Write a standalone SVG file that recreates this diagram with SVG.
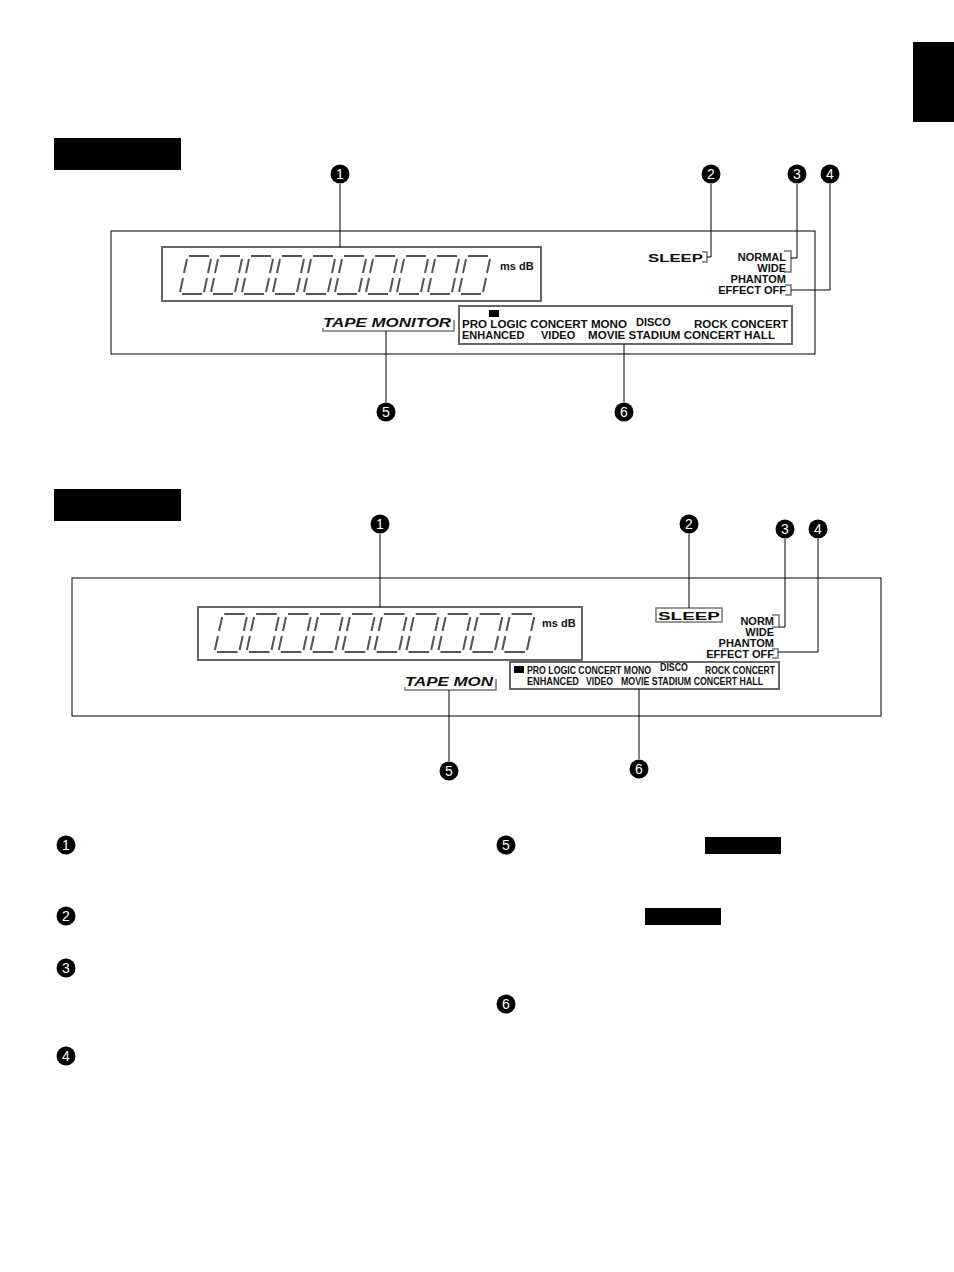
<svg xmlns="http://www.w3.org/2000/svg" xmlns:xlink="http://www.w3.org/1999/xlink" width="954" height="1272" viewBox="0 0 954 1272">
<style>
.p{fill:none;stroke:#000;stroke-width:1}
.bx{fill:none;stroke:#666;stroke-width:2}
.seg{fill:none;stroke:#555;stroke-width:2;stroke-linecap:butt}
.t{font-family:"Liberation Sans",Arial,sans-serif;font-weight:bold;font-size:11px;fill:#111}
.ti{font-family:"Liberation Sans",Arial,sans-serif;font-weight:bold;font-style:italic;font-size:13px;fill:#111}
.n{font-family:"Liberation Sans",Arial,sans-serif;font-size:14px;fill:#fff;text-anchor:middle}
.c{fill:none;stroke:#000;stroke-width:1}
.br{fill:none;stroke:#777;stroke-width:1.5}
</style>
<defs>
<g id="dg">
<path class="seg" d="M6,0 H26 M4,3 L1,17 M28,3 L25,17 M0,22 L-3,36 M24,22 L21,36 M-1,38 H19"/>
</g>
<g id="num"><circle r="9.5" fill="#000"/></g>
</defs>
<rect x="913" y="42" width="41" height="80" fill="#000"/>
<rect x="54" y="138" width="127" height="32" fill="#000"/>
<rect x="54" y="489" width="127" height="32" fill="#000"/>
<rect x="705" y="837" width="76" height="17" fill="#000"/>
<rect x="645" y="908" width="76" height="17" fill="#000"/>

<g id="panel1">
<rect x="111" y="231" width="704" height="123" class="p"/>
<rect x="162" y="247" width="379" height="54" class="bx"/>
<g id="digits1">
<use xlink:href="#dg" x="183" y="256"/><use xlink:href="#dg" x="214" y="256"/><use xlink:href="#dg" x="245" y="256"/><use xlink:href="#dg" x="276" y="256"/><use xlink:href="#dg" x="307" y="256"/><use xlink:href="#dg" x="338" y="256"/><use xlink:href="#dg" x="369" y="256"/><use xlink:href="#dg" x="400" y="256"/><use xlink:href="#dg" x="431" y="256"/><use xlink:href="#dg" x="462" y="256"/>
</g>
<text class="t" x="500" y="270">ms dB</text>
<text class="t" x="648" y="262" font-size="12" textLength="55" lengthAdjust="spacingAndGlyphs">SLEEP</text>
<path class="br" d="M702,252 H707 V262 H702"/>
<text class="t" x="786" y="261" text-anchor="end">NORMAL</text>
<text class="t" x="786" y="272" text-anchor="end">WIDE</text>
<text class="t" x="786" y="283" text-anchor="end">PHANTOM</text>
<text class="t" x="786" y="294" text-anchor="end">EFFECT OFF</text>
<path class="br" d="M784,251 H791 V272 H784"/>
<path class="br" d="M785,285 H791 V295 H785"/>
<text class="ti" x="323" y="327" textLength="128" lengthAdjust="spacingAndGlyphs">TAPE MONITOR</text>
<path class="br" d="M323,328 V331 H454 V320"/>
<rect x="459" y="306" width="333" height="38" class="bx"/>
<rect x="489" y="310" width="10" height="7" fill="#000"/>
<text class="t" x="462" y="328" textLength="165" lengthAdjust="spacingAndGlyphs">PRO LOGIC  CONCERT MONO</text>
<text class="t" x="636" y="326">DISCO</text>
<text class="t" x="694" y="328" textLength="94" lengthAdjust="spacingAndGlyphs">ROCK CONCERT</text>
<text class="t" x="462" y="339">ENHANCED</text>
<text class="t" x="541" y="339">VIDEO</text>
<text class="t" x="588" y="339" textLength="187" lengthAdjust="spacingAndGlyphs">MOVIE STADIUM CONCERT HALL</text>
</g>

<g id="panel2">
<rect x="72" y="578" width="809" height="138" class="p"/>
<rect x="198" y="607" width="384" height="53" class="bx"/>
<g id="digits2" transform="translate(218,614) scale(1.03,1.0)">
<use xlink:href="#dg" x="0" y="0"/><use xlink:href="#dg" x="31" y="0"/><use xlink:href="#dg" x="62" y="0"/><use xlink:href="#dg" x="93" y="0"/><use xlink:href="#dg" x="124" y="0"/><use xlink:href="#dg" x="155" y="0"/><use xlink:href="#dg" x="186" y="0"/><use xlink:href="#dg" x="217" y="0"/><use xlink:href="#dg" x="248" y="0"/><use xlink:href="#dg" x="279" y="0"/>
</g>
<text class="t" x="542" y="627">ms dB</text>
<rect x="656" y="608" width="66" height="14" class="br"/>
<text class="t" x="658" y="620" font-size="12" textLength="62" lengthAdjust="spacingAndGlyphs">SLEEP</text>
<text class="t" x="774" y="625" text-anchor="end">NORM</text>
<text class="t" x="774" y="636" text-anchor="end">WIDE</text>
<text class="t" x="774" y="647" text-anchor="end">PHANTOM</text>
<text class="t" x="774" y="658" text-anchor="end">EFFECT OFF</text>
<path class="br" d="M772,615 H779 V627 H772"/>
<path class="br" d="M772,649 H778 V658 H772"/>
<text class="ti" x="405" y="686" textLength="88" lengthAdjust="spacingAndGlyphs">TAPE MON</text>
<path class="br" d="M405,687 V690 H496 V679"/>
<rect x="510" y="662" width="269" height="27" class="bx"/>
<rect x="514" y="666" width="10" height="7" fill="#000"/>
<text class="t" x="527" y="674" font-size="10" textLength="124" lengthAdjust="spacingAndGlyphs">PRO LOGIC CONCERT MONO</text>
<text class="t" x="660" y="671" font-size="9" textLength="28" lengthAdjust="spacingAndGlyphs">DISCO</text>
<text class="t" x="705" y="674" font-size="10" textLength="70" lengthAdjust="spacingAndGlyphs">ROCK CONCERT</text>
<text class="t" x="527" y="685" font-size="10" textLength="52" lengthAdjust="spacingAndGlyphs">ENHANCED</text>
<text class="t" x="586" y="685" font-size="10" textLength="27" lengthAdjust="spacingAndGlyphs">VIDEO</text>
<text class="t" x="621" y="685" font-size="10" textLength="142" lengthAdjust="spacingAndGlyphs">MOVIE STADIUM CONCERT HALL</text>
</g>

<g id="connectors">
<path class="c" d="M340,184 V247"/>
<path class="c" d="M711,184 V257 H707"/>
<path class="c" d="M797,184 V258 H791"/>
<path class="c" d="M830,184 V290 H791"/>
<path class="c" d="M386,402 V331"/>
<path class="c" d="M624,402 V344"/>
<path class="c" d="M380,534 V607"/>
<path class="c" d="M689,534 V608"/>
<path class="c" d="M785,539 V627 H779"/>
<path class="c" d="M818,539 V652 H778"/>
<path class="c" d="M449,761 V690"/>
<path class="c" d="M639,759 V689"/>
</g>

<g id="markers">
<g transform="translate(340,174)"><use xlink:href="#num"/><text class="n" y="5">1</text></g>
<g transform="translate(711,174)"><use xlink:href="#num"/><text class="n" y="5">2</text></g>
<g transform="translate(797,174)"><use xlink:href="#num"/><text class="n" y="5">3</text></g>
<g transform="translate(830,174)"><use xlink:href="#num"/><text class="n" y="5">4</text></g>
<g transform="translate(386,412)"><use xlink:href="#num"/><text class="n" y="5">5</text></g>
<g transform="translate(624,412)"><use xlink:href="#num"/><text class="n" y="5">6</text></g>
<g transform="translate(380,524)"><use xlink:href="#num"/><text class="n" y="5">1</text></g>
<g transform="translate(689,524)"><use xlink:href="#num"/><text class="n" y="5">2</text></g>
<g transform="translate(785,529)"><use xlink:href="#num"/><text class="n" y="5">3</text></g>
<g transform="translate(818,529)"><use xlink:href="#num"/><text class="n" y="5">4</text></g>
<g transform="translate(449,771)"><use xlink:href="#num"/><text class="n" y="5">5</text></g>
<g transform="translate(639,769)"><use xlink:href="#num"/><text class="n" y="5">6</text></g>
<g transform="translate(66,845)"><use xlink:href="#num"/><text class="n" y="5">1</text></g>
<g transform="translate(66,916)"><use xlink:href="#num"/><text class="n" y="5">2</text></g>
<g transform="translate(66,968)"><use xlink:href="#num"/><text class="n" y="5">3</text></g>
<g transform="translate(66,1056)"><use xlink:href="#num"/><text class="n" y="5">4</text></g>
<g transform="translate(506,845)"><use xlink:href="#num"/><text class="n" y="5">5</text></g>
<g transform="translate(506,1004)"><use xlink:href="#num"/><text class="n" y="5">6</text></g>
</g>
</svg>
